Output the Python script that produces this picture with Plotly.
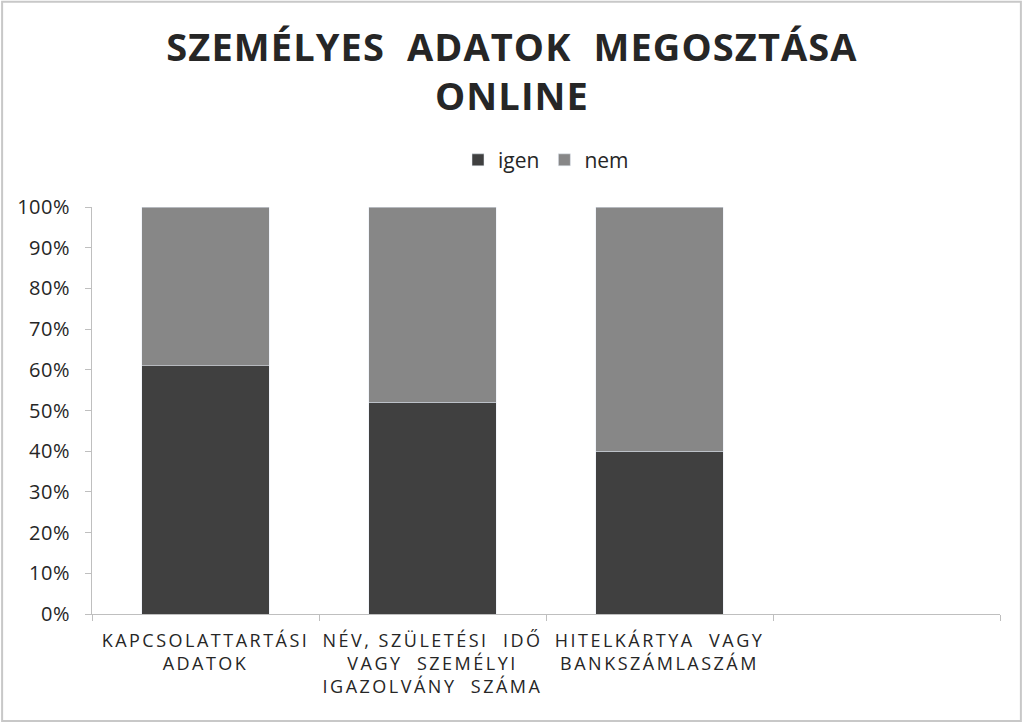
import plotly.graph_objects as go

categories = ["KAPCSOLATTARTÁSI<br>ADATOK",
              "NÉV, SZÜLETÉSI  IDŐ<br>VAGY  SZEMÉLYI<br>IGAZOLVÁNY  SZÁMA",
              "HITELKÁRTYA  VAGY<br>BANKSZÁMLASZÁM",
              " "]
igen = [0.61, 0.52, 0.40, None]
nem = [0.39, 0.48, 0.60, None]

fig = go.Figure()
fig.add_trace(go.Bar(x=categories, y=igen, name="igen", marker_color="#404040", width=0.56))
fig.add_trace(go.Bar(x=categories, y=nem, name="nem", marker_color="#878787", width=0.56))

fig.update_layout(
    barmode="stack",
    width=1024, height=724,
    paper_bgcolor="white", plot_bgcolor="white",
    margin=dict(l=92, r=24, t=207, b=110),
    font=dict(family="Open Sans", color="#262626"),
    title=dict(text="<b>SZEMÉLYES  ADATOK  MEGOSZTÁSA<br>ONLINE</b>",
               x=0.5, xanchor="center", yref="container", y=0.916, yanchor="top",
               font=dict(size=38, color="#262626")),
    legend=dict(orientation="h", x=0.5, xanchor="center", y=1.115, yanchor="middle",
                font=dict(size=21), traceorder="normal", itemwidth=30),
    showlegend=True,
    shapes=[dict(type="rect", xref="paper", yref="paper", x0=-0.099, x1=1.023, y0=-0.263, y1=1.504,
                 line=dict(color="#c8c8c8", width=2))],
)
fig.update_xaxes(type="category", showline=True, linecolor="#bfbfbf", linewidth=1,
                 ticks="outside", tickson="boundaries", ticklen=6, tickcolor="#bfbfbf",
                 ticklabelstandoff=10,
                 tickfont=dict(size=18, color="#262626"), showgrid=False, tickangle=0)
fig.update_yaxes(range=[0, 1], tickformat=".0%", dtick=0.1, showline=True, linecolor="#bfbfbf",
                 ticks="outside", ticklen=6, tickcolor="#bfbfbf", showgrid=False,
                 ticklabelstandoff=11,
                 tickfont=dict(size=20, color="#262626"), zeroline=False)

# page without body margin, and the wide letter spacing of the original
post = """
document.body.style.margin = '0';
document.querySelectorAll('.xtick text').forEach(function (t) { t.style.letterSpacing = '2.5px'; });
document.querySelectorAll('.gtitle').forEach(function (t) { t.style.letterSpacing = '1.1px'; });
document.querySelectorAll('.ytick text').forEach(function (t) { t.style.letterSpacing = '0.5px'; });
"""
fig.write_html("out.html", post_script=post, config={"displayModeBar": False})
